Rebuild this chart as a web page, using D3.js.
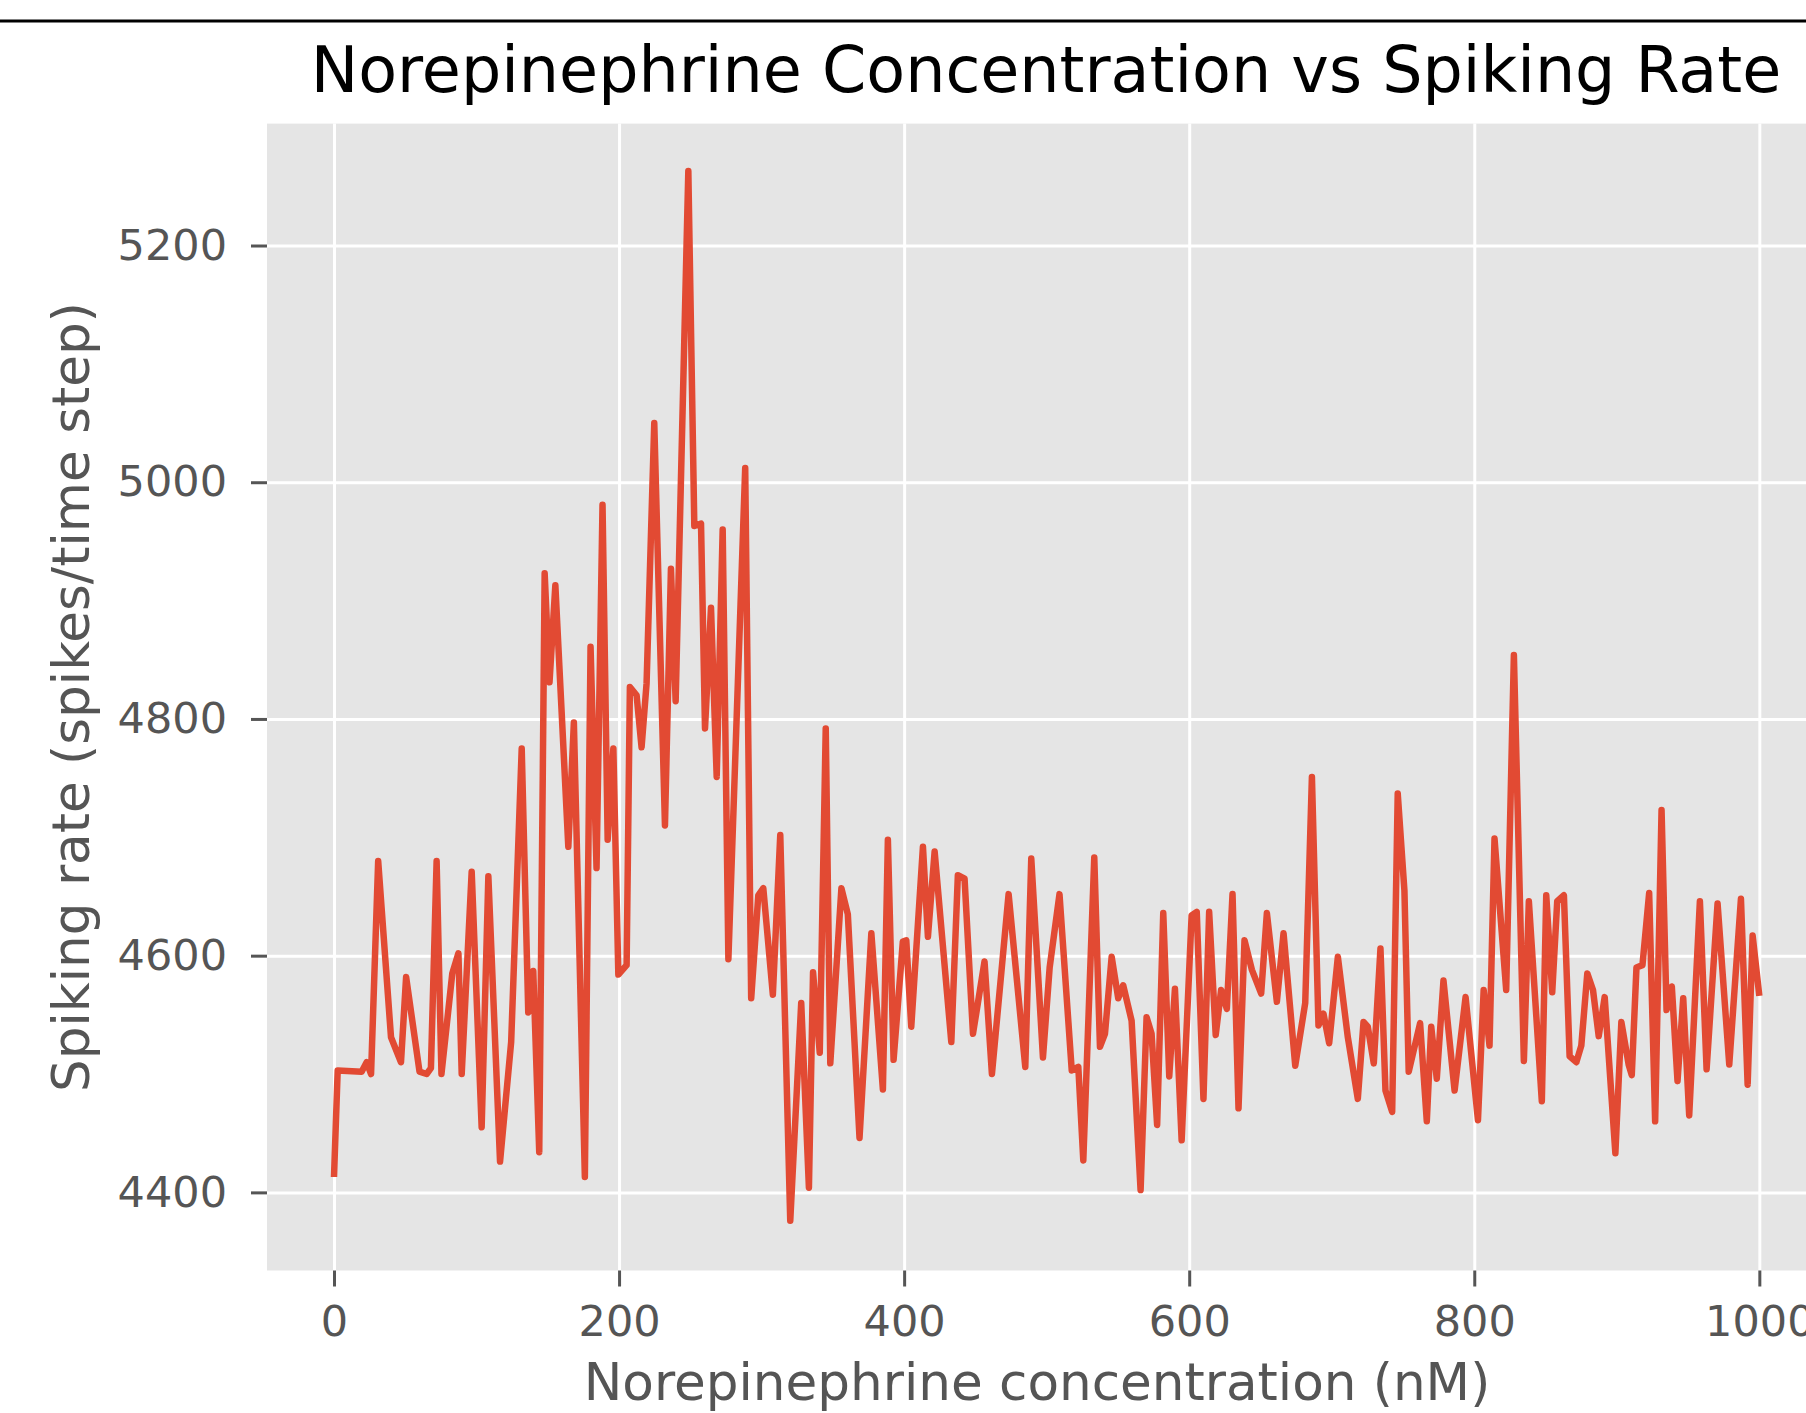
<!DOCTYPE html>
<html>
<head>
<meta charset="utf-8">
<script src="https://cdn.jsdelivr.net/npm/d3@7"></script>
<style>
  html, body { margin: 0; padding: 0; background: #fff; overflow: hidden; }
  svg { display: block; font-family: "DejaVu Sans", sans-serif; }
</style>
</head>
<body>
<svg width="1806" height="1413"></svg>
<script>
// values
var concentration = [0, 2.6, 19.4, 22.9, 26, 31, 40, 47, 50.6, 60, 65, 68, 72, 75.4, 83, 87.3, 89.6, 96.6,
    103.6, 108.3, 116.5, 124.3, 131.7, 136.3, 139.8, 144, 147.8, 151.2, 155.3, 164.4, 168.3, 176, 180,
    184.2, 188.4, 192, 196, 199.5, 205.3, 207.6, 212.3, 215.8, 219.3, 224.7, 232.2, 236.4, 239.7, 248.6,
    252.8, 257.5, 260.3, 264.5, 268.5, 272.7, 276.7, 288.5, 292.7, 297.7, 301.2, 307.9, 313.1, 320.1,
    327.8, 333.2, 336.1, 340.8, 345, 348.2, 356, 360.5, 368.7, 377, 385.1, 388.6, 392.6, 399.1,
    401.5, 405, 413.2, 416.7, 421.4, 433.1, 437.7, 442.4, 448.3, 456.4, 461.6, 473.3, 485, 489.2, 497.4,
    502.1, 509, 517.6, 522.2, 525.7, 533.4, 537.4, 540.9, 545.6, 550.2, 553.7, 559.6, 565.9, 570.1,
    573.6, 577.5, 581.8, 586, 590, 594.7, 601.7, 605.3, 610, 614, 618.6, 622.4, 626.4, 630.4, 634.6,
    638.8, 644, 650.5, 654.5, 661.5, 666.2, 674.4, 681.4, 686.1, 690.7, 694.2, 698.2, 704.3, 711.3,
    718.3, 722.3, 725.3, 729.5, 734.2, 737.7, 742.4, 746.3, 751, 754, 762, 766.7, 769.8, 773.7, 778.4,
    786.2, 793.9, 802.6, 806.6, 810.7, 814.2, 822.4, 827.8, 834.8, 838.3, 847.4, 850.5, 854.7, 858.2,
    862.9, 866.9, 871.6, 875.1, 879.3, 883.3, 887.3, 891.5, 899, 903.2, 908.3, 910.5, 913.8, 918,
    922.7, 926.9, 931.4, 934.9, 938.6, 942.6, 946.6, 950.8, 958.3, 963, 970.7, 978.9, 987.1, 991.8,
    995.3, 1000];
var spikingRate = [4413, 4503, 4502, 4510, 4500, 4680, 4531, 4510, 4582, 4502, 4500, 4505, 4680, 4500, 4585, 4602, 4500, 4671,
    4455, 4667, 4426, 4527, 4775, 4552, 4587, 4434, 4923, 4831, 4913, 4692, 4797, 4413, 4861,
    4674, 4981, 4698, 4775, 4584, 4592, 4827, 4820, 4776, 4830, 5050, 4710, 4927, 4815, 5263,
    4963, 4965, 4792, 4894, 4751, 4960, 4597, 5012, 4564, 4651, 4657, 4567, 4702, 4376,
    4560, 4404, 4586, 4518, 4792, 4509, 4657, 4635, 4446, 4619, 4487, 4698, 4512, 4612,
    4613, 4540, 4692, 4616, 4688, 4527, 4668, 4665, 4534, 4595, 4500, 4652, 4506, 4682, 4514,
    4590, 4652, 4503, 4506, 4427, 4683, 4523, 4534, 4599, 4564, 4575, 4545, 4402, 4548,
    4534, 4457, 4636, 4498, 4572, 4444, 4634, 4637, 4479, 4637, 4533, 4571, 4555, 4652, 4471,
    4613, 4588, 4568, 4636, 4561, 4619, 4507, 4560, 4751, 4541, 4551, 4526, 4599, 4531,
    4479, 4544, 4540, 4509, 4606, 4486, 4468, 4737, 4655, 4502, 4543, 4460, 4540, 4496, 4579,
    4486, 4565, 4461, 4571, 4524, 4699, 4571, 4854, 4511, 4646, 4477, 4651, 4569, 4646,
    4651, 4515, 4510, 4524, 4585, 4571, 4532, 4565, 4433, 4544, 4508, 4499, 4590, 4592,
    4653, 4460, 4723, 4554, 4574, 4494, 4564, 4465, 4646, 4504, 4644, 4508, 4648, 4491,
    4617, 4566];

var xTicks = [0, 200, 400, 600, 800, 1000];
var yTicks = [4400, 4600, 4800, 5000, 5200];

var svg = d3.select("svg");

// frame line across the top of the screenshot
svg.append("line")
    .attr("x1", 0).attr("x2", 1806)
    .attr("y1", 21).attr("y2", 21)
    .attr("stroke", "#000").attr("stroke-width", 3);

var plotLeft = 267, plotRight = 1830.6, plotTop = 123.6, plotBottom = 1270.5;

var x = d3.scaleLinear().domain([-47, 1050]).range([plotLeft, plotRight]);
var y = d3.scaleLinear().domain([4334, 5303]).range([plotBottom, plotTop]);

svg.append("rect")
    .attr("x", plotLeft).attr("y", plotTop)
    .attr("width", plotRight - plotLeft).attr("height", plotBottom - plotTop)
    .attr("fill", "#e5e5e5");

// grid
svg.append("g")
    .attr("transform", "translate(0," + plotBottom + ")")
    .call(d3.axisBottom(x).tickValues(xTicks).tickFormat("").tickSize(-(plotBottom - plotTop)))
    .call(function (g) { g.select(".domain").remove(); })
    .selectAll("line").attr("stroke", "#fff").attr("stroke-width", 3);

svg.append("g")
    .attr("transform", "translate(" + plotLeft + ",0)")
    .call(d3.axisLeft(y).tickValues(yTicks).tickFormat("").tickSize(-(plotRight - plotLeft)))
    .call(function (g) { g.select(".domain").remove(); })
    .selectAll("line").attr("stroke", "#fff").attr("stroke-width", 3);

// axes
var xAxis = svg.append("g")
    .attr("transform", "translate(0," + plotBottom + ")")
    .call(d3.axisBottom(x).tickValues(xTicks).tickFormat(d3.format("d")).tickSize(16).tickPadding(19));
var yAxis = svg.append("g")
    .attr("transform", "translate(" + plotLeft + ",0)")
    .call(d3.axisLeft(y).tickValues(yTicks).tickFormat(d3.format("d")).tickSize(16).tickPadding(24));

[xAxis, yAxis].forEach(function (g) {
    g.select(".domain").remove();
    g.selectAll("line").attr("stroke", "#555").attr("stroke-width", 3);
    g.selectAll("text")
        .attr("fill", "#555")
        .attr("font-family", "DejaVu Sans")
        .attr("font-size", "43px");
});

// the series
svg.append("path")
    .datum(concentration.map(function (c, i) { return [c, spikingRate[i]]; }))
    .attr("fill", "none")
    .attr("stroke", "#e24a33")
    .attr("stroke-width", 6.5)
    .attr("stroke-linejoin", "round")
    .attr("d", d3.line()
        .x(function (d) { return x(d[0]); })
        .y(function (d) { return y(d[1]); }));

// texts
svg.append("text")
    .attr("x", 1046)
    .attr("y", 92)
    .attr("text-anchor", "middle")
    .attr("fill", "#000")
    .attr("font-size", "63.5px")
    .text("Norepinephrine Concentration vs Spiking Rate");

svg.append("text")
    .attr("x", 1037)
    .attr("y", 1400)
    .attr("text-anchor", "middle")
    .attr("fill", "#555")
    .attr("font-size", "51.6px")
    .text("Norepinephrine concentration (nM)");

svg.append("text")
    .attr("transform", "translate(89," + (plotTop + plotBottom) / 2 + ") rotate(-90)")
    .attr("text-anchor", "middle")
    .attr("fill", "#555")
    .attr("font-size", "51.6px")
    .text("Spiking rate (spikes/time step)");
</script>
</body>
</html>
